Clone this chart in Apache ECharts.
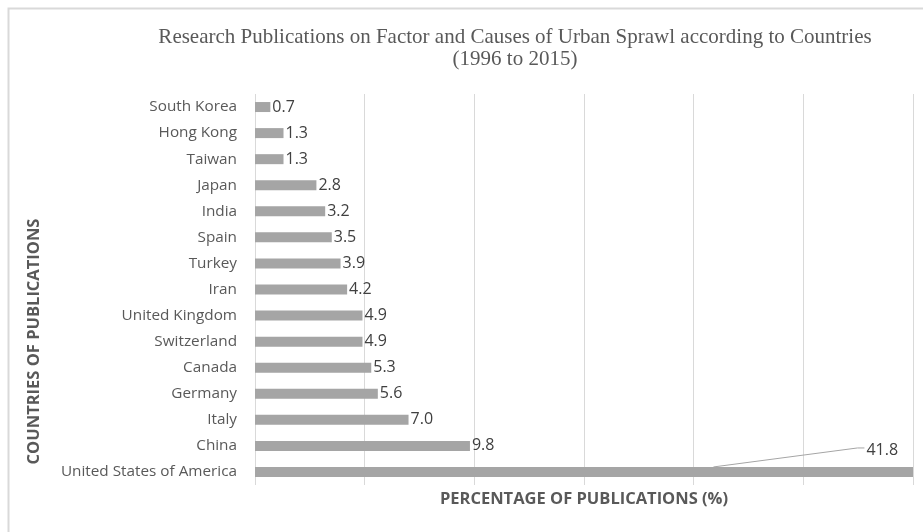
<!DOCTYPE html>
<html>
<head>
<meta charset="utf-8">
<script src="https://cdn.jsdelivr.net/npm/echarts@6/dist/echarts.min.js"></script>
<style>
  html, body { margin: 0; padding: 0; background: #fff; }
  #chart { width: 923px; height: 532px; }
</style>
</head>
<body>
<div id="chart"></div>
<script>
"use strict";

var countries = ['South Korea', 'Hong Kong', 'Taiwan', 'Japan', 'India', 'Spain', 'Turkey', 'Iran',
	'United Kingdom', 'Switzerland', 'Canada', 'Germany', 'Italy', 'China', 'United States of America'];
var shares = [0.7, 1.3, 1.3, 2.8, 3.2, 3.5, 3.9, 4.2, 4.9, 4.9, 5.3, 5.6, 7.0, 9.8, 41.8];

var chartTitle = 'Research Publications on Factor and Causes of Urban Sprawl according to Countries\n(1996 to 2015)';
var xName = 'PERCENTAGE OF PUBLICATIONS (%)';
var yName = 'COUNTRIES OF PUBLICATIONS';

var xMax = 30;
var barColor = '#a5a5a5';
var textColor = '#595959';

// bars running past the axis end get a call-out label instead
var overflow = [];
for (var i = 0; i < shares.length; i++) {
	if (shares[i] > xMax) {
		overflow.push([shares[i], countries[i]]);
	}
}

var myChart = echarts.init(document.getElementById('chart'));

myChart.setOption({
	animation: false,
	title: {
		text: chartTitle,
		left: 510,
		top: 21,
		textAlign: 'center',
		textStyle: {
			fontFamily: 'Liberation Serif',
			fontWeight: 'normal',
			fontSize: 21,
			lineHeight: 22,
			color: textColor
		}
	},
	graphic: [{
		type: 'rect',
		left: 6,
		top: 6,
		shape: { width: 930, height: 540 },
		style: { fill: 'none', stroke: '#d9d9d9', lineWidth: 2 },
		silent: true
	}],
	grid: {
		left: 255,
		right: 10,
		top: 94,
		bottom: 47
	},
	xAxis: {
		type: 'value',
		min: 0,
		max: xMax,
		interval: 5,
		axisLabel: { show: false },
		axisLine: { show: false },
		axisTick: { show: false },
		splitLine: { lineStyle: { color: '#d9d9d9', width: 1 } },
		name: xName,
		nameLocation: 'middle',
		nameGap: 6,
		nameTextStyle: {
			fontFamily: 'Open Sans',
			fontWeight: 'bold',
			fontSize: 16.5,
			color: textColor
		}
	},
	yAxis: {
		type: 'category',
		inverse: true,
		data: countries,
		axisLine: { show: false },
		axisTick: { show: false },
		axisLabel: {
			margin: 18,
			fontFamily: 'Open Sans',
			fontSize: 15.3,
			color: textColor
		},
		name: yName,
		nameLocation: 'middle',
		nameGap: 212,
		nameTextStyle: {
			fontFamily: 'Open Sans',
			fontWeight: 'bold',
			fontSize: 16.5,
			color: textColor,
			padding: [0, 104, 0, 0]
		}
	},
	series: [{
		type: 'bar',
		data: shares,
		barWidth: 10,
		itemStyle: { color: barColor },
		label: {
			show: true,
			position: 'right',
			distance: 2,
			fontFamily: 'Open Sans',
			fontSize: 16,
			color: '#404040',
			formatter: function(p) {
				return p.value > xMax ? '' : p.value.toFixed(1);
			}
		}
	}, {
		type: 'custom',
		data: overflow,
		silent: true,
		renderItem: function(params, api) {
			// leader starts at the middle of the (full length) bar top edge
			var c = api.coord([api.value(0) / 2, api.value(1)]);
			var x0 = c[0], y0 = c[1] - 5;
			var x1 = x0 + 144, y1 = y0 - 19;
			return {
				type: 'group',
				children: [{
					type: 'polyline',
					shape: { points: [[x0, y0], [x1, y1], [x1 + 7, y1]] },
					style: { stroke: '#a5a5a5', lineWidth: 1, fill: 'none' }
				}, {
					type: 'text',
					x: x1 + 9,
					y: y1 + 2,
					style: {
						text: api.value(0).toFixed(1),
						fontFamily: 'Open Sans',
						fontSize: 16,
						fill: '#404040',
						verticalAlign: 'middle'
					}
				}]
			};
		}
	}]
});
</script>
</body>
</html>
